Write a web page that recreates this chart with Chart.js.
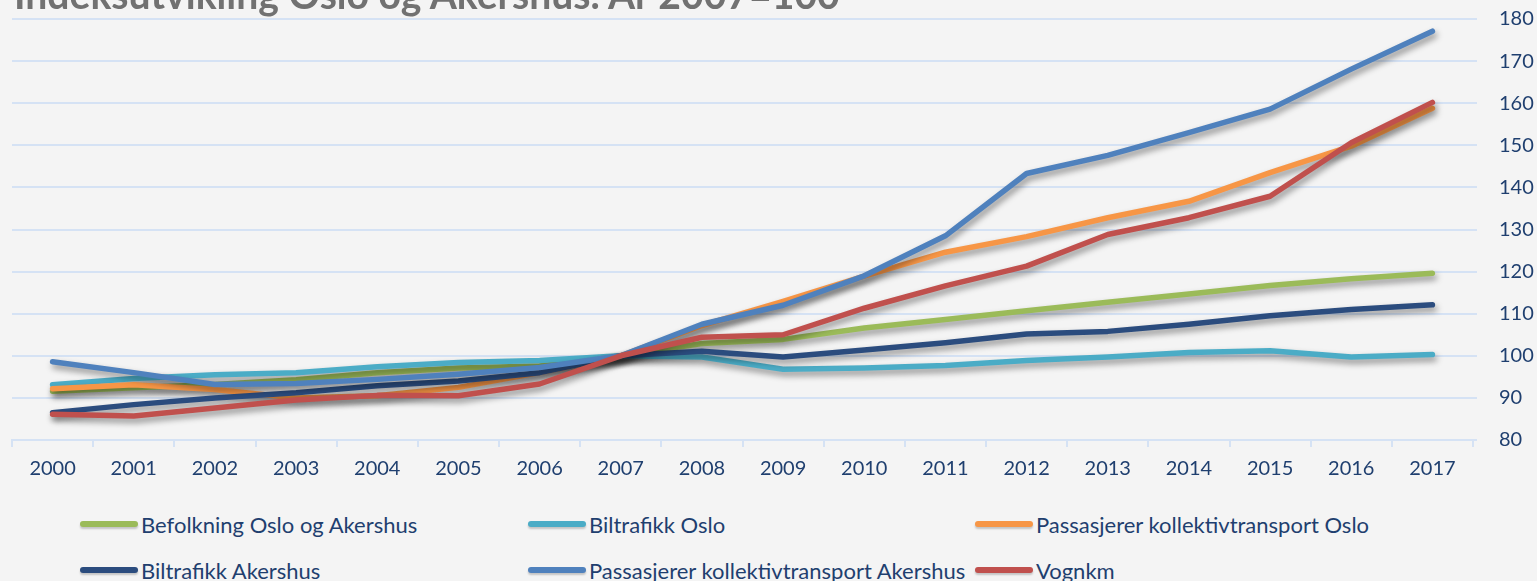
<!DOCTYPE html>
<html>
<head>
<meta charset="utf-8">
<script src="https://cdn.jsdelivr.net/npm/chart.js@4"></script>
<style>
  html, body { margin:0; padding:0; background:#f4f4f4; }
  #wrap { position:relative; width:1537px; height:581px; overflow:hidden; background:#f4f4f4; }
  #title { position:absolute; left:14px; top:-21px; font-family:Lato, sans-serif; font-weight:700; font-size:34px; line-height:1; color:#717171; white-space:nowrap; }
  canvas { position:absolute; left:0; top:-15px; }
  .lg { position:absolute; display:flex; align-items:center; font-family:Lato, sans-serif; font-size:22px; color:#1f3f6f; white-space:nowrap; }
  .lg .sw { width:58px; height:6px; border-radius:3px; margin-right:3px; box-shadow:0 2px 2px rgba(0,0,0,0.2); }
</style>
</head>
<body>
<div id="wrap">
  <canvas id="c" width="1537" height="515"></canvas>
  <div id="title">Indeksutvikling Oslo og Akershus. År 2007=100</div>
</div>
<script>
const years = ['2000','2001','2002','2003','2004','2005','2006','2007','2008','2009','2010','2011','2012','2013','2014','2015','2016','2017'];
const yTicks = [80, 180, 10]; // min, max, step
const seriesNames = ['Befolkning Oslo og Akershus','Biltrafikk Oslo','Passasjerer kollektivtransport Oslo','Biltrafikk Akershus','Passasjerer kollektivtransport Akershus','Vognkm'];
const befolkning = [91.6, 92.4, 93.2, 94.3, 96.0, 97.1, 97.6, 100, 102.9, 103.9, 106.6, 108.6, 110.7, 112.7, 114.7, 116.7, 118.3, 119.6];
const biltrafikkOslo = [93.1, 94.6, 95.5, 96.0, 97.4, 98.4, 98.9, 100, 99.7, 96.8, 97.1, 97.7, 98.9, 99.7, 100.8, 101.2, 99.7, 100.3];
const passasjererOslo = [92.2, 93.1, 92.0, 90.0, 90.5, 92.5, 96.0, 100, 107.2, 112.9, 118.9, 124.6, 128.3, 132.8, 136.7, 143.5, 149.8, 158.8];
const biltrafikkAkershus = [86.5, 88.4, 90.0, 91.2, 92.9, 94.0, 96.0, 100, 101.1, 99.7, 101.4, 103.1, 105.2, 105.8, 107.5, 109.5, 111.0, 112.1];
const passasjererAkershus = [98.6, 96.0, 93.2, 93.4, 94.4, 95.6, 97.2, 100, 107.5, 112.0, 119.0, 128.5, 143.3, 147.6, 153.0, 158.6, 168.1, 177.1];
const vognkm = [86.1, 85.7, 87.6, 89.5, 90.6, 90.5, 93.3, 100, 104.4, 105.0, 111.3, 116.6, 121.3, 128.8, 132.8, 137.9, 150.6, 160.2];

const seriesData = [befolkning, biltrafikkOslo, passasjererOslo, biltrafikkAkershus, passasjererAkershus, vognkm];
const colors = ['#9bbb59', '#4bacc6', '#f79646', '#2b4c7e', '#4f81bd', '#c0504d'];
const textColor = '#1f3f6f';
const gridColor = '#d5e2f4';

// fit title width to the reference (about 826px) and put its baseline at y=9
(function () {
  const t = document.getElementById('title');
  const w = t.getBoundingClientRect().width;
  const s = 34 * 826 / w;
  t.style.fontSize = s + 'px';
  t.style.top = (9 - 0.887 * s) + 'px';
})();

const shadowPlugin = {
  id: 'shadow',
  beforeDatasetDraw(chart) {
    const c = chart.ctx; c.save();
    c.shadowColor = 'rgba(0,0,0,0.42)'; c.shadowBlur = 6; c.shadowOffsetX = 2; c.shadowOffsetY = 4;
  },
  afterDatasetDraw(chart) { chart.ctx.restore(); }
};

const datasets = seriesNames.map((name, i) => ({
  label: name,
  data: seriesData[i],
  borderColor: colors[i],
  backgroundColor: colors[i],
  borderWidth: 5.5,
  pointRadius: 0,
  tension: 0,
  borderCapStyle: 'round',
  borderJoinStyle: 'round',
  fill: false,
  order: seriesNames.length - i
}));

new Chart(document.getElementById('c'), {
  type: 'line',
  data: { labels: years, datasets },
  plugins: [shadowPlugin],
  options: {
    responsive: false,
    devicePixelRatio: 1,
    animation: false,
    layout: { padding: { left: 12, top: 3, right: 0, bottom: 9 } },
    plugins: { legend: { display: false }, tooltip: { enabled: false }, title: { display: false } },
    scales: {
      x: {
        offset: true,
        grid: { offset: true, drawOnChartArea: false, drawTicks: true, tickLength: 7, color: gridColor, lineWidth: 2 },
        border: { color: gridColor, width: 2 },
        ticks: { font: { family: 'Lato', size: 20 }, color: textColor, padding: 10, maxRotation: 0, autoSkip: false }
      },
      y: {
        position: 'right',
        min: yTicks[0], max: yTicks[1],
        grid: { color: gridColor, lineWidth: 2, tickLength: 4 },
        border: { display: false },
        ticks: { stepSize: yTicks[2], font: { family: 'Lato', size: 20 }, color: textColor, padding: 22 },
        afterFit: s => { s.width = 64; }
      }
    }
  }
});

// HTML legend built from series names and colours
const cols = [80, 528, 975], rows = [524, 570];
const wrap = document.getElementById('wrap');
seriesNames.forEach((name, i) => {
  const d = document.createElement('div');
  d.className = 'lg';
  d.style.left = cols[i % 3] + 'px';
  d.style.top = (rows[Math.floor(i / 3)] - 12) + 'px';
  d.style.height = '24px';
  d.innerHTML = '<span class="sw" style="background:' + colors[i] + '"></span><span>' + name + '</span>';
  wrap.appendChild(d);
});
</script>
</body>
</html>
